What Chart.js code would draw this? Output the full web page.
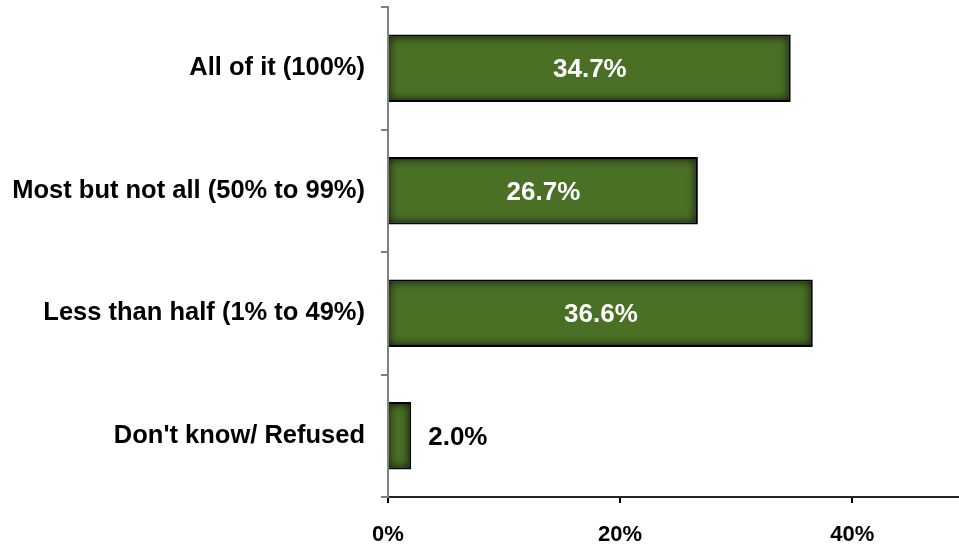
<!DOCTYPE html>
<html>
<head>
<meta charset="utf-8">
<title>Share chart</title>
<script src="https://cdn.jsdelivr.net/npm/chart.js@4.4.1/dist/chart.umd.min.js"></script>
<style>
    html, body { margin: 0; padding: 0; background: #fff; }
    #wrap { width: 959px; height: 546px; position: relative; }
</style>
</head>
<body>
<div id="wrap"><canvas id="shareChart"></canvas></div>
<script>
/* Chart data */
const categories = ['All of it (100%)', 'Most but not all (50% to 99%)', 'Less than half (1% to 49%)', "Don't know/ Refused"];
const shares = [34.7, 26.7, 36.6, 2.0];
const tickValues = [0, 20, 40];

const FONT = "'Liberation Sans', Arial, sans-serif";

/* Inner shading on bars + value labels */
const barExtras = {
    id: 'barExtras',
    afterDatasetsDraw(chart) {
        const ctx = chart.ctx;
        const meta = chart.getDatasetMeta(0);
        meta.data.forEach((bar, i) => {
            const p = bar.getProps(['x', 'y', 'base', 'height'], true);
            const left = Math.min(p.base, p.x);
            const right = Math.max(p.base, p.x) - 2;
            const top = p.y - p.height / 2 + 2;
            const bottom = p.y + p.height / 2 - 2;

            ctx.save();
            ctx.beginPath();
            ctx.rect(left, top, right - left, bottom - top);
            ctx.clip();
            ctx.shadowColor = 'rgba(0,0,0,0.8)';
            ctx.shadowBlur = 10;
            ctx.lineWidth = 12;
            ctx.strokeStyle = '#000';
            ctx.strokeRect(left - 6, top - 6, right - left + 12, bottom - top + 12);
            ctx.restore();

            // value label
            const v = shares[i];
            ctx.save();
            ctx.font = 'bold 26px ' + FONT;
            ctx.textBaseline = 'middle';
            if (v < 5) {
                ctx.fillStyle = '#000';
                ctx.textAlign = 'left';
                ctx.fillText(v.toFixed(1) + '%', p.x + 17, p.y + 2);
            } else {
                ctx.fillStyle = '#fff';
                ctx.textAlign = 'center';
                ctx.fillText(v.toFixed(1) + '%', (p.base + p.x) / 2, p.y + 2);
            }
            ctx.restore();
        });
    }
};

document.addEventListener('DOMContentLoaded', () => {
    const ctx = document.getElementById('shareChart');

    new Chart(ctx, {
        type: 'bar',
        data: {
            labels: categories,
            datasets: [{
                data: shares,
                backgroundColor: '#4a7026',
                borderColor: '#000',
                borderWidth: 2,
                borderSkipped: 'start',
                barPercentage: 0.55,
                categoryPercentage: 1
            }]
        },
        options: {
            indexAxis: 'y',
            responsive: true,
            maintainAspectRatio: false,
            animation: false,
            layout: { padding: { top: 7, right: 0, left: 0, bottom: 0 } },
            plugins: {
                legend: { display: false },
                tooltip: { enabled: false }
            },
            scales: {
                x: {
                    min: 0,
                    max: 49.2,
                    afterBuildTicks: (scale) => {
                        scale.ticks = tickValues.map(v => ({ value: v }));
                    },
                    afterFit: (scale) => { scale.height = 49; scale.paddingRight = 0; },
                    border: { color: '#222', width: 2 },
                    grid: { drawOnChartArea: false, drawTicks: true, tickLength: 6, color: '#000', lineWidth: 2 },
                    ticks: {
                        padding: 19,
                        color: '#000',
                        font: { family: FONT, size: 22, weight: 'bold' },
                        callback: (v) => v + '%'
                    }
                },
                y: {
                    z: 1,
                    afterFit: (scale) => {
                        scale.width = 388;
                        scale.paddingTop = 0;
                        scale.paddingBottom = 0;
                    },
                    border: { color: '#808080', width: 2 },
                    grid: { offset: true, drawOnChartArea: false, drawTicks: true, tickLength: 7, color: '#808080', lineWidth: 2 },
                    ticks: {
                        padding: 16,
                        color: '#000',
                        font: { family: FONT, size: 25.5, weight: 'bold' }
                    }
                }
            }
        },
        plugins: [barExtras]
    }); // End Chart
});
</script>
</body>
</html>
